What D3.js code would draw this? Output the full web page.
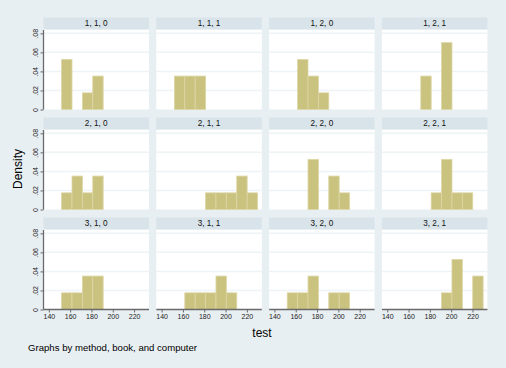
<!DOCTYPE html>
<html>
<head>
<meta charset="utf-8">
<script src="https://d3js.org/d3.v7.min.js"></script>
<style>
  body { margin: 0; background: #e8eff2; }
  svg { display: block; font-family: "Liberation Sans", Arial, sans-serif; }
</style>
</head>
<body>
<svg id="chart"></svg>
<script>
let width = 506;
let height = 368;

// panel labels: method, book, computer
let panelLabels = [
  "1, 1, 0", "1, 1, 1", "1, 2, 0", "1, 2, 1",
  "2, 1, 0", "2, 1, 1", "2, 2, 0", "2, 2, 1",
  "3, 1, 0", "3, 1, 1", "3, 2, 0", "3, 2, 1",
];

// histogram bins (lower edges), width binWidth
let binStarts = [152, 161.75, 171.5, 181.25, 191, 200.75, 210.5, 220.25];
let binWidth = 9.75;

// density per bin, one list per panel
let densities = [
  [0.0526, 0, 0.0175, 0.0351, 0, 0, 0, 0],
  [0.0351, 0.0351, 0.0351, 0, 0, 0, 0, 0],
  [0, 0.0526, 0.0351, 0.0175, 0, 0, 0, 0],
  [0, 0, 0.0351, 0, 0.0702, 0, 0, 0],
  [0.0175, 0.0351, 0.0175, 0.0351, 0, 0, 0, 0],
  [0, 0, 0, 0.0175, 0.0175, 0.0175, 0.0351, 0.0175],
  [0, 0, 0.0526, 0, 0.0351, 0.0175, 0, 0],
  [0, 0, 0, 0.0175, 0.0526, 0.0175, 0.0175, 0],
  [0.0175, 0.0175, 0.0351, 0.0351, 0, 0, 0, 0],
  [0, 0.0175, 0.0175, 0.0175, 0.0351, 0.0175, 0, 0],
  [0.0175, 0.0175, 0.0351, 0, 0.0175, 0.0175, 0, 0],
  [0, 0, 0, 0, 0.0175, 0.0526, 0, 0.0351],
];

let xTicks = [140, 160, 180, 200, 220];
let yTicks = [0, 0.02, 0.04, 0.06, 0.08];
let yTickLabels = ["0", ".02", ".04", ".06", ".08"];

let x0 = 43.5;
let colStep = 112.8;
let panelW = 105.5;
let rowStep = 100;
let stripTop = 17.5;
let stripH = 11.5;
let plotTop = 30;
let plotBottom = 109.5;

let svg = d3.select("#chart").attr("width", width).attr("height", height);

svg.append("rect").attr("width", width).attr("height", height).attr("fill", "#e8eff2");

let xScale = d3.scaleLinear().domain([135, 234]).range([0, panelW]);
let yScale = d3.scaleLinear().domain([0, 0.0835]).range([plotBottom - plotTop, 0]);

let drawPanel = (i) => {
  let row = Math.floor(i / 4);
  let col = i % 4;
  let g = svg.append("g")
    .attr("transform", "translate(" + (x0 + col * colStep) + "," + (plotTop + row * rowStep) + ")");

  // strip
  g.append("rect")
    .attr("x", 0)
    .attr("y", stripTop - plotTop)
    .attr("width", panelW)
    .attr("height", stripH)
    .attr("fill", "#d9e4ea");
  g.append("text")
    .attr("x", panelW / 2)
    .attr("y", stripTop - plotTop + 8.8)
    .attr("text-anchor", "middle")
    .attr("font-size", 8.2)
    .attr("fill", "#111")
    .text(panelLabels[i]);

  // plot region
  g.append("rect")
    .attr("width", panelW)
    .attr("height", plotBottom - plotTop)
    .attr("fill", "#ffffff");

  // gridlines
  g.selectAll(".grid")
    .data(yTicks.slice(1))
    .enter()
    .append("line")
    .attr("x1", 0)
    .attr("x2", panelW)
    .attr("y1", (d) => yScale(d))
    .attr("y2", (d) => yScale(d))
    .attr("stroke", "#eef3f5")
    .attr("stroke-width", 1.5);

  // bars
  let bars = densities[i]
    .map((d, k) => ({ start: binStarts[k], density: d }))
    .filter((d) => d.density > 0);
  g.selectAll(".bar")
    .data(bars)
    .enter()
    .append("rect")
    .attr("x", (d) => xScale(d.start))
    .attr("y", (d) => yScale(d.density))
    .attr("width", (d) => xScale(d.start + binWidth) - xScale(d.start))
    .attr("height", (d) => yScale(0) - yScale(d.density))
    .attr("fill", "#cac27f")
    .attr("stroke", "#ddd6a6")
    .attr("stroke-width", 0.8);

  // y axis on first column
  if (col === 0) {
    let yAxis = d3.axisLeft(yScale)
      .tickValues(yTicks)
      .tickSize(3)
      .tickFormat((d, k) => yTickLabels[k]);
    let ya = g.append("g").call(yAxis);
    ya.select(".domain").attr("stroke", "#6a6a6a").attr("stroke-width", 1.3)
      .attr("d", "M0," + 0 + "V" + yScale(0));
    ya.selectAll(".tick line").attr("stroke", "#6a6a6a");
    ya.selectAll(".tick text")
      .attr("font-size", 7)
      .attr("fill", "#222")
      .attr("x", null)
      .attr("dy", null)
      .attr("text-anchor", "middle")
      .attr("transform", "translate(-6,0) rotate(-90)");
  }

  // x axis on bottom row
  if (row === 2) {
    let xAxis = d3.axisBottom(xScale)
      .tickValues(xTicks)
      .tickSize(3)
      .tickFormat(d3.format("d"));
    let xa = g.append("g")
      .attr("transform", "translate(0," + yScale(0) + ")")
      .call(xAxis);
    xa.select(".domain").attr("stroke", "#6a6a6a").attr("stroke-width", 1.3)
      .attr("d", "M0,0H" + panelW);
    xa.selectAll(".tick line").attr("stroke", "#6a6a6a");
    xa.selectAll(".tick text")
      .attr("font-size", 7)
      .attr("fill", "#222")
      .attr("y", 5);
  }
};

panelLabels.forEach((d, i) => drawPanel(i));

// axis titles and note
svg.append("text")
  .attr("transform", "translate(22,169) rotate(-90)")
  .attr("text-anchor", "middle")
  .attr("font-size", 12)
  .attr("fill", "#000")
  .text("Density");

svg.append("text")
  .attr("x", 262)
  .attr("y", 337)
  .attr("text-anchor", "middle")
  .attr("font-size", 12)
  .attr("fill", "#000")
  .text("test");

svg.append("text")
  .attr("x", 28)
  .attr("y", 351)
  .attr("font-size", 9.6)
  .attr("fill", "#000")
  .text("Graphs by method, book, and computer");
</script>
</body>
</html>
